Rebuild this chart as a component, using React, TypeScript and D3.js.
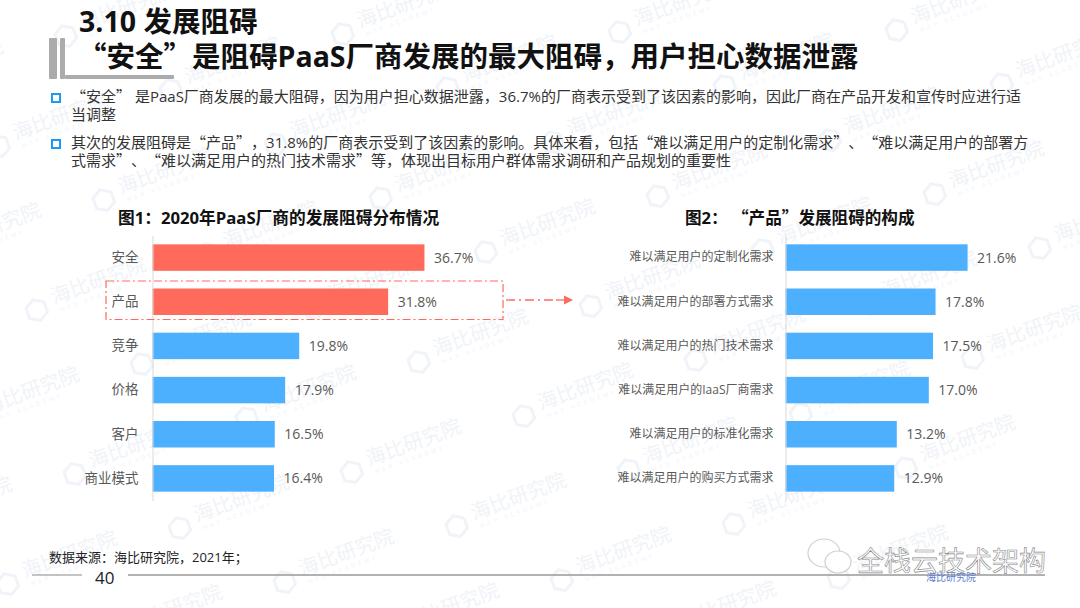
import React, { useEffect, useRef } from 'react';
import * as d3 from 'd3';

const leftCategories = ['安全', '产品', '竞争', '价格', '客户', '商业模式'];
const leftValues = [36.7, 31.8, 19.8, 17.9, 16.5, 16.4];
const rightCategories = [
  '难以满足用户的定制化需求',
  '难以满足用户的部署方式需求',
  '难以满足用户的热门技术需求',
  '难以满足用户的IaaS厂商需求',
  '难以满足用户的标准化需求',
  '难以满足用户的购买方式需求',
];
const rightValues = [21.6, 17.8, 17.5, 17.0, 13.2, 12.9];
const highlighted = ['安全', '产品'];

const bullets = [
  ['“安全” 是PaaS厂商发展的最大阻碍，因为用户担心数据泄露，36.7%的厂商表示受到了该因素的影响，因此厂商在产品开发和宣传时应进行适', '当调整'],
  ['其次的发展阻碍是“产品”，31.8%的厂商表示受到了该因素的影响。具体来看，包括“难以满足用户的定制化需求”、“难以满足用户的部署方', '式需求”、“难以满足用户的热门技术需求”等，体现出目标用户群体需求调研和产品规划的重要性'],
];

const FONT = '"Open Sans", "Noto Sans CJK SC", sans-serif';
const CJK = '"Noto Sans CJK SC", sans-serif';
const RED = '#FF6A5B';
const BLUE = '#4DB0FF';
const TEXT = '#595959';
const WM = '#F0F3F8';

type Svg = d3.Selection<SVGSVGElement, unknown, null, undefined>;

// Open Sans has narrow curly quotes, the slide uses full width ones
function putText(svg: Svg, t: string, x: number, y: number, size: number, fill: string, weight = 400) {
  const el = svg.append('text')
    .attr('x', x).attr('y', y)
    .style('font-family', FONT).style('font-weight', weight)
    .style('font-size', `${size}px`).style('fill', fill)
    .style('white-space', 'pre')
    .style('text-spacing-trim', 'space-all');
  t.split(/([“”])/).forEach(part => {
    if (!part) return;
    el.append('tspan')
      .style('font-family', /[“”]/.test(part) ? CJK : FONT)
      .text(part);
  });
  return el;
}

function drawBars(
  svg: Svg,
  categories: string[],
  values: number[],
  axisX: number,
  pxPerUnit: number,
  labelSize: number,
  labelPad: number
) {
  const x = d3.scaleLinear().domain([0, 1]).range([axisX, axisX + pxPerUnit]);
  const y = d3.scaleBand().domain(categories).range([235.5, 500.5]).paddingInner(0.4).paddingOuter(0.2);
  const g = svg.append('g');

  // bars first, the axis line sits on top of them
  g.selectAll('rect')
    .data(categories)
    .enter()
    .append('rect')
    .attr('x', x(0))
    .attr('y', d => y(d)!)
    .attr('width', (_, i) => x(values[i]) - x(0))
    .attr('height', y.bandwidth())
    .attr('fill', d => (highlighted.includes(d) && categories === leftCategories ? RED : BLUE));

  const axis = g.append('g')
    .attr('transform', `translate(${axisX},0)`)
    .call(d3.axisLeft(y).tickSize(0).tickPadding(labelPad));
  axis.select('.domain').attr('stroke', '#D9D9D9').attr('stroke-width', 1);
  axis.selectAll('text')
    .style('font-family', FONT)
    .style('font-size', `${labelSize}px`)
    .style('fill', TEXT);

  g.selectAll('.val')
    .data(categories)
    .enter()
    .append('text')
    .attr('class', 'val')
    .attr('x', (_, i) => x(values[i]) + 9.5)
    .attr('y', d => y(d)! + y.bandwidth() / 2 + 5)
    .style('font-family', FONT)
    .style('font-size', '14px')
    .style('fill', TEXT)
    .text((_, i) => `${values[i].toFixed(1)}%`);
}

export default function App() {
  const svgRef = useRef<SVGSVGElement>(null);

  useEffect(() => {
    if (!svgRef.current) return;
    const svg = d3.select(svgRef.current);
    svg.selectAll('*').remove();

    // watermark lattice
    const wm = svg.append('g');
    d3.range(-5, 7).forEach(i => {
      d3.range(-5, 7).forEach(j => {
        const px = 377 - 172 * i - 67 * j;
        const py = 283 + 56 * i + 110 * j;
        if (px < -80 || px > 1160 || py < -40 || py > 650) return;
        const m = wm.append('g').attr('transform', `translate(${px},${py}) rotate(-20)`);
        m.append('path')
          .attr('d', d3.line()(d3.range(7).map(k => {
            const a = (k * Math.PI) / 3 - Math.PI / 6;
            return [-68 + 11 * Math.cos(a), 2 + 11 * Math.sin(a)] as [number, number];
          })))
          .attr('fill', 'none')
          .attr('stroke', WM)
          .attr('stroke-width', 3);
        m.append('text')
          .attr('x', -50).attr('y', 2)
          .style('font-family', FONT).style('font-size', '20px').style('fill', WM)
          .text('海比研究院');
        m.append('text')
          .attr('x', -46).attr('y', 12)
          .style('font-family', FONT).style('font-size', '6px').style('letter-spacing', '3px').style('fill', WM)
          .text('HAP ACADEMY');
      });
    });

    // header ornament
    const orn = svg.append('g').attr('fill', '#ABABAB');
    orn.append('rect').attr('x', 49).attr('y', 38).attr('width', 8).attr('height', 41).attr('rx', 1);
    orn.append('rect').attr('x', 60).attr('y', 38).attr('width', 5).attr('height', 41).attr('rx', 1);
    orn.append('rect').attr('x', 65).attr('y', 75).attr('width', 109).attr('height', 4).attr('rx', 1);

    putText(svg, '3.10 发展阻碍', 79, 32, 28.5, '#111', 700);
    putText(svg, '“安全”是阻碍PaaS厂商发展的最大阻碍，用户担心数据泄露', 78, 67, 28.5, '#111', 700);

    // bullet text
    bullets.forEach((lines, i) => {
      const top = i === 0 ? 102 : 148;
      svg.append('rect')
        .attr('x', 52).attr('y', top - 8)
        .attr('width', 8).attr('height', 8)
        .attr('fill', '#fff').attr('stroke', '#1E9BF0').attr('stroke-width', 2);
      lines.forEach((l, k) => {
        putText(svg, l, 71, top + k * 18, 15, '#333');
      });
    });

    // chart titles
    putText(svg, '图1：2020年PaaS厂商的发展阻碍分布情况', 118, 224, 16.7, '#111', 700);
    putText(svg, '图2： “产品”发展阻碍的构成', 685, 224, 16.6, '#111', 700);

    drawBars(svg, leftCategories, leftValues, 152.5, 7.41, 13.5, 14);
    drawBars(svg, rightCategories, rightValues, 785.5, 8.43, 12, 12);

    // highlight box and arrow
    svg.append('rect')
      .attr('x', 106).attr('y', 281)
      .attr('width', 397).attr('height', 38.5)
      .attr('fill', 'none')
      .attr('stroke', RED).attr('stroke-width', 1.2)
      .attr('stroke-dasharray', '8 3 2 3');
    svg.append('line')
      .attr('x1', 506).attr('y1', 300).attr('x2', 556).attr('y2', 300)
      .attr('stroke', RED).attr('stroke-width', 1.3)
      .attr('stroke-dasharray', '9 4 2 4');
    svg.append('line')
      .attr('x1', 556).attr('y1', 300).attr('x2', 568).attr('y2', 300)
      .attr('stroke', RED).attr('stroke-width', 1.3);
    svg.append('path')
      .attr('d', d3.line()([[573, 300], [564, 295.5], [564, 304.5]])! + 'Z')
      .attr('fill', RED);

    // footer
    svg.append('text')
      .attr('x', 49).attr('y', 562)
      .style('font-family', FONT).style('font-size', '13px').style('fill', '#222')
      .text('数据来源：海比研究院，2021年；');
    svg.append('text')
      .attr('x', 95).attr('y', 584)
      .style('font-family', FONT).style('font-size', '17px').style('fill', '#222')
      .text('40');
    svg.append('line').attr('x1', 32).attr('y1', 575).attr('x2', 82).attr('y2', 575)
      .attr('stroke', '#888').attr('stroke-width', 1);
    svg.append('line').attr('x1', 128).attr('y1', 575).attr('x2', 1045).attr('y2', 575)
      .attr('stroke', '#999').attr('stroke-width', 1.4);

    // account mark
    const bubble = svg.append('g').attr('fill', 'none').attr('stroke', '#CFCFCF').attr('stroke-width', 1.2);
    bubble.append('ellipse').attr('cx', 824).attr('cy', 553).attr('rx', 16).attr('ry', 14);
    bubble.append('ellipse').attr('cx', 838).attr('cy', 562).attr('rx', 13).attr('ry', 11).attr('fill', '#fff');
    svg.append('text')
      .attr('x', 857).attr('y', 571)
      .style('font-family', FONT).style('font-size', '27px')
      .style('fill', '#fff').style('stroke', '#888').style('stroke-width', 0.6)
      .text('全栈云技术架构');

    // small logo under the account name
    svg.append('text')
      .attr('x', 926).attr('y', 581)
      .style('font-family', FONT).style('font-size', '10px').style('fill', '#5C7FD0')
      .text('海比研究院');
  }, []);

  return (
    <svg
      ref={svgRef}
      width={1080}
      height={608}
      style={{ position: 'absolute', left: 0, top: 0, background: '#fff' }}
    />
  );
}
